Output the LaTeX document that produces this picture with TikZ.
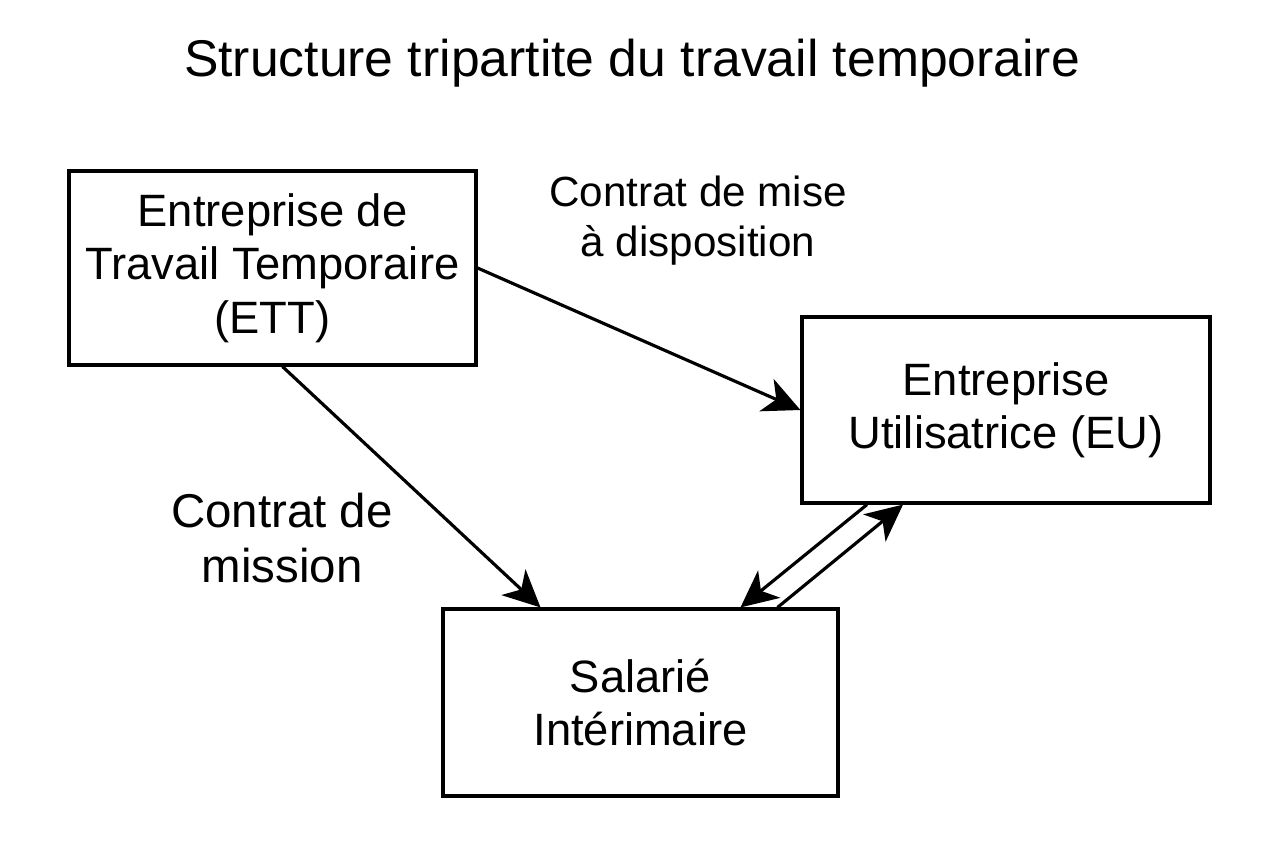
\documentclass[tikz,border=0pt]{standalone}
\usepackage{fontspec}
\setmainfont{Liberation Sans}
\usetikzlibrary{arrows.meta}

\begin{document}
\begin{tikzpicture}[>={Stealth[length=10.5pt,width=10pt,inset=3pt]},
    party/.style={draw,line width=0.9pt,align=center,inner sep=0pt,
                  font=\fontsize{12.9}{15.2}\selectfont},
    relation/.style={->,line width=0.9pt},
    contract/.style={align=center}]

% ============================================
% FRAME AND TITLE
% ============================================
        \useasboundingbox (0,0) rectangle (12.64,-8.48);
        \node (title) at (6.32,-0.63) {\fontsize{14.7}{17}\selectfont Structure tripartite du travail temporaire};

% ============================================
% THE THREE PARTIES
% ============================================
        \node[party,minimum width=4.07cm,minimum height=1.94cm] (ett) at (2.725,-2.68)
             {Entreprise de\\Travail Temporaire\\(ETT)};
        \node[party,minimum width=4.08cm,minimum height=1.86cm] (eu) at (10.06,-4.10)
             {Entreprise\\Utilisatrice (EU)};
        \node[party,minimum width=3.95cm,minimum height=1.87cm] (sal) at (6.405,-7.025)
             {Salarié\\Intérimaire};

% ============================================
% CONTRACTS
% ============================================
        % ETT -> EU
        \draw[relation] (ett.east) -- (eu.west);
        \node[contract,font=\fontsize{12}{14.2}\selectfont] (miseadispo) at (6.98,-2.21)
             {Contrat de mise\\à disposition};
        % ETT -> salarie
        \draw[relation] ([xshift=0.1cm]ett.south) -- ([xshift=-1.0cm]sal.north);
        \node[contract,font=\fontsize{13.5}{15.4}\selectfont] (mission) at (2.82,-5.38)
             {Contrat de\\mission};
        % salarie <-> EU
        \draw[relation] ([xshift=1.37cm]sal.north) -- ([xshift=-1.03cm]eu.south);
        \draw[relation] ([xshift=-1.39cm]eu.south) -- ([xshift=1.0cm]sal.north);
\end{tikzpicture}
\end{document}
